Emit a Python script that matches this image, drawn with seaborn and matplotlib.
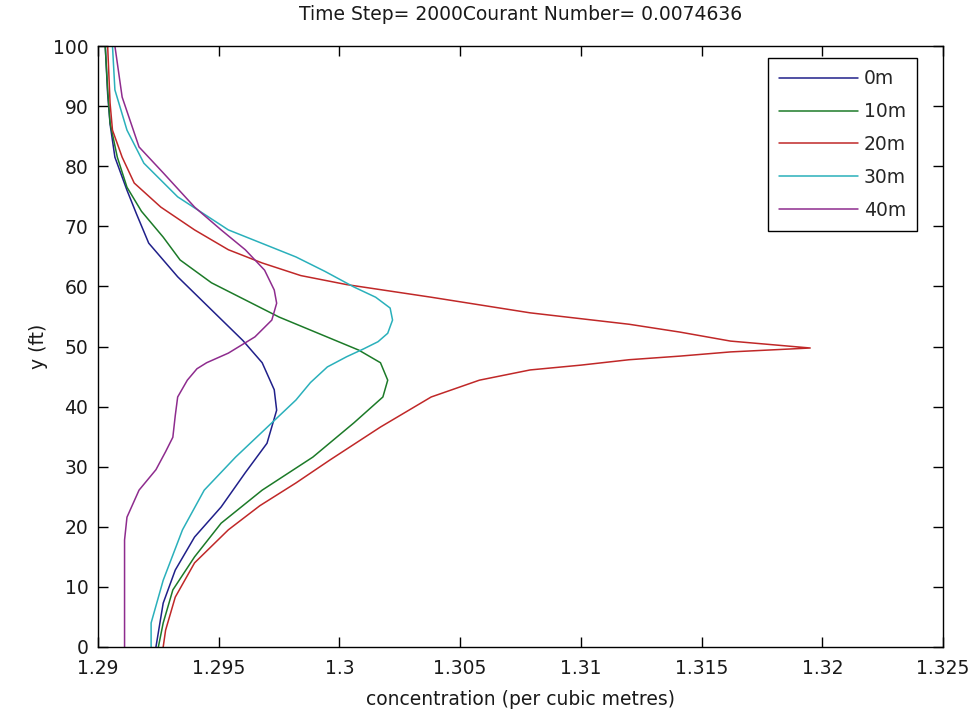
import numpy as np
import pandas as pd
import seaborn as sns
import matplotlib
matplotlib.use("Agg")
import matplotlib.pyplot as plt

# Concentration profiles (y in ft, concentration per cubic metre) at five stations
y_0m = [0, 7.3, 12.8, 18.3, 23.3, 29, 33.9, 39.4, 42.8, 47.3, 51, 56.1, 61.6, 67.2, 72, 76, 81.5, 87, 92, 100]
c_0m = [1.2924, 1.2927, 1.2932, 1.2940, 1.2951, 1.2961, 1.2970, 1.2974, 1.2973, 1.2968, 1.2960, 1.2947,
        1.2933, 1.2921, 1.2916, 1.2912, 1.2907, 1.2905, 1.2904, 1.2903]

y_10m = [0, 4, 9.5, 15, 20.6, 26.1, 31.6, 37.3, 41.6, 44.4, 47.3, 49.4, 54.9, 60.6, 64.4, 68.2, 72.5, 76.5,
         81.5, 87.2, 92.7, 100]
c_10m = [1.2925, 1.2927, 1.2931, 1.2940, 1.2951, 1.2968, 1.2989, 1.3006, 1.3018, 1.3020, 1.3017, 1.3008,
         1.2975, 1.2947, 1.2934, 1.2927, 1.2918, 1.2912, 1.2908, 1.2905, 1.2904, 1.2903]

y_20m = [0, 2.8, 8.3, 14, 19.5, 23.5, 27.3, 31.1, 36.6, 41.6, 44.4, 46.1, 46.9, 47.8, 48.4, 49.1, 49.75,
         50.9, 52.4, 53.7, 55.6, 58.2, 59.1, 60.3, 61.8, 63.9, 66.1, 69.4, 73.2, 77.2, 81.5, 86, 90.5, 100]
c_20m = [1.2927, 1.2928, 1.2932, 1.2940, 1.2954, 1.2967, 1.2982, 1.2996, 1.3017, 1.3038, 1.3058, 1.3079,
         1.3100, 1.3120, 1.3141, 1.3162, 1.3195, 1.3162, 1.3141, 1.3120, 1.3079, 1.3038, 1.3023, 1.3003,
         1.2984, 1.2968, 1.2954, 1.2940, 1.2926, 1.2915, 1.2910, 1.2906, 1.2905, 1.2904]

y_30m = [0, 4, 11.1, 19.5, 26.1, 31.6, 37.3, 41.1, 44.0, 46.6, 48.3, 49.6, 50.8, 52.2, 54.4, 56.4, 58.2,
         59.9, 62.5, 64.9, 69.4, 74.9, 80.5, 86, 92.7, 100]
c_30m = [1.2922, 1.2922, 1.2927, 1.2935, 1.2944, 1.2957, 1.2972, 1.2982, 1.2988, 1.2995, 1.3003, 1.3010,
         1.3016, 1.3020, 1.3022, 1.3021, 1.3015, 1.3006, 1.2994, 1.2982, 1.2954, 1.2933, 1.2919, 1.2912,
         1.2907, 1.2906]

y_40m = [0, 17.8, 21.6, 26.1, 29.5, 32.5, 34.9, 38.5, 41.6, 44.4, 46.3, 47.3, 48.9, 51.6, 54.4, 57.2, 59.4,
         62.7, 66.1, 69.4, 73.2, 78.9, 83.2, 91.5, 100]
c_40m = [1.2911, 1.2911, 1.2912, 1.2917, 1.2924, 1.2928, 1.2931, 1.2932, 1.2933, 1.2937, 1.2941, 1.2945,
         1.2954, 1.2965, 1.2972, 1.2974, 1.2973, 1.2969, 1.2961, 1.2951, 1.2940, 1.2927, 1.2917, 1.2910,
         1.2907]

labels = ["0m", "10m", "20m", "30m", "40m"]
colors = ["#20208a", "#1c7a28", "#c02828", "#2ab0bb", "#8e2c8e"]

x_ticks = [1.29, 1.295, 1.3, 1.305, 1.31, 1.315, 1.32, 1.325]
x_tick_labels = ["1.29", "1.295", "1.3", "1.305", "1.31", "1.315", "1.32", "1.325"]
y_ticks = [0, 10, 20, 30, 40, 50, 60, 70, 80, 90, 100]

frames = []
for lab, ys, cs in zip(labels, [y_0m, y_10m, y_20m, y_30m, y_40m],
                       [c_0m, c_10m, c_20m, c_30m, c_40m]):
    frames.append(pd.DataFrame({"conc": cs, "y": ys, "station": lab}))
df = pd.concat(frames, ignore_index=True)

sns.set_theme(style="white")
plt.rcParams["font.family"] = ["DejaVu Sans"]
plt.rcParams["xtick.direction"] = "in"
plt.rcParams["ytick.direction"] = "in"

FS = 13.5
TXT = "#1a1a1a"

fig = plt.figure(figsize=(9.73, 7.15), dpi=100)
ax = fig.add_axes([98 / 973, 1 - 647 / 715, 845 / 973, 601 / 715])

sns.lineplot(data=df, x="conc", y="y", hue="station", palette=colors, sort=False,
             estimator=None, linewidth=1.1, ax=ax)

ax.set_xlim(1.29, 1.325)
ax.set_ylim(0, 100)
ax.set_xticks(x_ticks)
ax.set_xticklabels(x_tick_labels)
ax.set_yticks(y_ticks)
ax.tick_params(axis="both", which="both", direction="in", length=7, width=1, colors="black",
               labelcolor=TXT, labelsize=FS, top=True, right=True, bottom=True, left=True)
ax.tick_params(axis="x", pad=9)
ax.tick_params(axis="y", pad=7)
for s in ax.spines.values():
    s.set_color("black")
    s.set_linewidth(1)

ax.set_xlabel("concentration (per cubic metres)", fontsize=FS, color=TXT, labelpad=8)
ax.set_ylabel("y (ft)", fontsize=FS, color=TXT, labelpad=3)
ax.set_title("Time Step= 2000Courant Number= 0.0074636", fontsize=FS, color=TXT, pad=19)

leg = ax.legend(loc="upper left", bbox_to_anchor=((768 - 98) / 845, (647 - 58) / 601),
                borderaxespad=0, fontsize=FS, frameon=True, fancybox=False, handlelength=4.2,
                handletextpad=0.3, labelspacing=0.74, borderpad=0.6)
leg.get_frame().set_edgecolor("black")
leg.get_frame().set_linewidth(1)
leg.get_frame().set_alpha(1)

fig.savefig("out.png", dpi=100, facecolor="white")
